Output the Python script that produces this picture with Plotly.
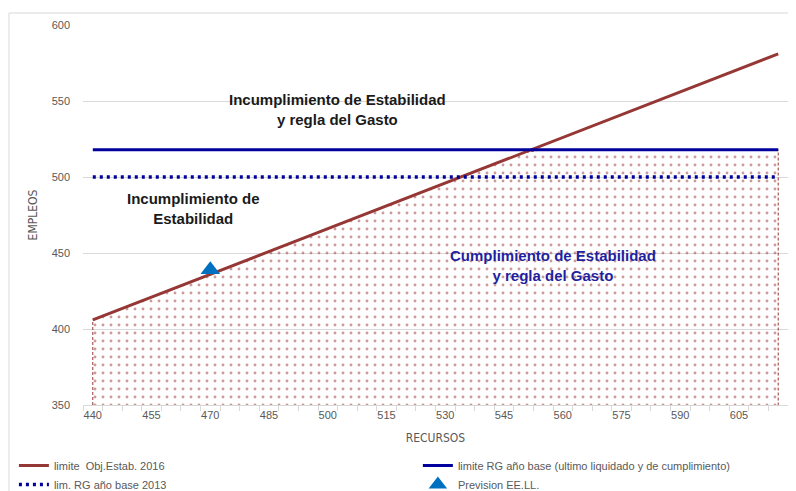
import plotly.graph_objects as go

# ---- data ----
recursos = [440, 445, 450, 455, 460, 465, 470, 475, 480, 485, 490, 495,
            500, 505, 510, 515, 520, 525, 530, 535, 540, 545, 550, 555,
            560, 565, 570, 575, 580, 585, 590, 595, 600, 605, 610, 615]
limite_obj_estab_2016 = [406, 411, 416, 421, 426, 431, 436, 441, 446, 451, 456, 461,
                         466, 471, 476, 481, 486, 491, 496, 501, 506, 511, 516, 521,
                         526, 531, 536, 541, 546, 551, 556, 561, 566, 571, 576, 581]
limite_rg_base = [518] * len(recursos)
lim_rg_2013 = [500] * len(recursos)
prevision_x = [470]
prevision_y = [439]
x_ticks = [440, 455, 470, 485, 500, 515, 530, 545, 560, 575, 590, 605]
y_floor = 350

RED = "#953735"
NAVY = "#00009C"
BLUE_TRI = "#0070C0"
GRAY = "#595959"
GRID = "#D9D9D9"

# compliance region: under both the stability limit and the RG limit
top = [min(a, b) for a, b in zip(limite_obj_estab_2016, limite_rg_base)]
fill_x = [recursos[0]] + recursos + [recursos[-1]]
fill_y = [y_floor] + top + [y_floor]

fig = go.Figure()

fig.add_trace(go.Scatter(
    x=fill_x, y=fill_y, mode="lines", fill="toself",
    fillcolor="rgba(255,255,255,0)",
    fillpattern=dict(shape=".", fgcolor=RED, bgcolor="rgba(255,255,255,0)",
                     size=8, solidity=0.1),
    line=dict(color=RED, width=1, dash="3px,2px"),
    showlegend=False, hoverinfo="skip"))

fig.add_trace(go.Scatter(
    x=recursos, y=limite_obj_estab_2016, mode="lines",
    name="limite  Obj.Estab. 2016", legend="legend",
    line=dict(color=RED, width=3)))

fig.add_trace(go.Scatter(
    x=recursos, y=limite_rg_base, mode="lines",
    name="limite RG año base (ultimo liquidado y de cumplimiento)", legend="legend2",
    line=dict(color=NAVY, width=3)))

fig.add_trace(go.Scatter(
    x=recursos, y=lim_rg_2013, mode="lines",
    name="lim. RG año base 2013", legend="legend",
    line=dict(color=NAVY, width=3.5, dash="3px,4px")))

fig.add_trace(go.Scatter(
    x=prevision_x, y=prevision_y, mode="markers",
    name="Prevision EE.LL.", legend="legend2",
    marker=dict(symbol="triangle-up", size=17, color=BLUE_TRI)))

font_main = "Liberation Sans, Arial, sans-serif"
font_cond = "DejaVu Sans Condensed, Liberation Sans Narrow, Arial"

legend_common = dict(orientation="v", xanchor="left", yanchor="top",
                     y=-0.121, font=dict(size=11, color=GRAY),
                     bgcolor="rgba(0,0,0,0)", tracegroupgap=0, itemwidth=30)

ann_font_dark = dict(family=font_main, size=15, color="#1A1A1A")
ann_font_blue = dict(family=font_main, size=15, color="#1F1FA0")

# the page places the figure 8px in from the window's top-left corner
fig.update_layout(
    width=788, height=483,
    margin=dict(l=75, r=8, t=17, b=86, autoexpand=False),
    paper_bgcolor="white", plot_bgcolor="white",
    font=dict(family=font_main, size=11, color=GRAY),
    xaxis=dict(
        range=[437.5, 617.5], tickmode="array", tickvals=x_ticks,
        ticks="", showgrid=False, zeroline=False,
        showline=True, linecolor=GRID, linewidth=1,
        minor=dict(ticks="outside", tick0=437.5, dtick=5, ticklen=5,
                   tickcolor=GRID, showgrid=False),
        tickfont=dict(size=11, color=GRAY),
        title=dict(text="RECURSOS", font=dict(size=12, color=GRAY, family=font_cond),
                   standoff=13),
    ),
    yaxis=dict(
        range=[350, 600], dtick=50, tick0=350,
        showgrid=True, gridcolor=GRID, gridwidth=1,
        zeroline=False, showline=False, ticks="",
        ticklabelstandoff=12,
        tickfont=dict(size=11, color=GRAY),
        title=dict(text="EMPLEOS", font=dict(size=12, color=GRAY, family=font_cond),
                   standoff=11),
    ),
    legend=dict(x=-0.098, **legend_common),
    legend2=dict(x=0.475, **legend_common),
    shapes=[dict(type="rect", xref="paper", yref="paper",
                 x0=-0.105, x1=1.03, y0=-0.3, y1=1.0316,
                 line=dict(color=GRID, width=1), fillcolor="rgba(0,0,0,0)",
                 layer="below")],
    annotations=[
        dict(x=502.6, y=544.7, xref="x", yref="y", showarrow=False,
             text="<b>Incumplimiento de Estabilidad<br>y regla del Gasto</b>",
             font=ann_font_dark),
        dict(x=465.8, y=479, xref="x", yref="y", showarrow=False,
             text="<b>Incumplimiento de<br>Estabilidad</b>", font=ann_font_dark),
        dict(x=557.5, y=442, xref="x", yref="y", showarrow=False,
             text="<b>Cumplimiento de Estabilidad<br>y regla del Gasto</b>",
             font=ann_font_blue),
    ],
)

fig.write_html("out.html")
